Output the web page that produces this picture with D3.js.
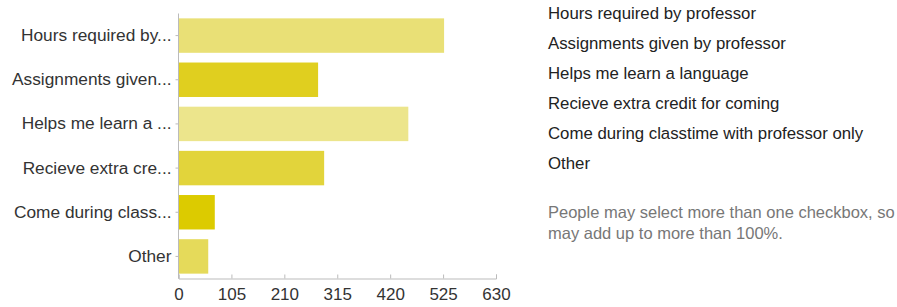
<!DOCTYPE html>
<html><head><meta charset="utf-8">
<script src="https://cdn.jsdelivr.net/npm/d3@7"></script>
<style>body{margin:0;background:#fff;} text{font-family:"Liberation Sans",Arial,sans-serif;}</style>
</head><body><svg id="c" width="897" height="307"></svg>
<script>
const categories = ["Hours required by...","Assignments given...","Helps me learn a ...","Recieve extra cre...","Come during class...","Other"];
const values = [527, 277, 456, 289, 72, 59];
const colors = ["#e9e076","#e0cf1f","#ece58c","#e2d43b","#dccb00","#e5da5a"];
const ticks = [0,105,210,315,420,525,630];
const legendLabels = ["Hours required by professor","Assignments given by professor","Helps me learn a language","Recieve extra credit for coming","Come during classtime with professor only","Other"];
const noteLines = ["People may select more than one checkbox, so","may add up to more than 100%."];

const svg = d3.select("#c");
const x = d3.scaleLinear().domain([0,630]).range([178.5,496]);
const y = d3.scaleBand().domain(categories).range([13.5,278.5]).paddingInner(0.22).paddingOuter(0.11);

svg.append("g").selectAll("rect").data(categories).join("rect")
  .attr("x", x(0)).attr("y", d=>y(d)).attr("height", y.bandwidth())
  .attr("width", (d,i)=>x(values[i])-x(0)).attr("fill",(d,i)=>colors[i]);

const gx = svg.append("g").attr("transform","translate(0,278.5)")
  .call(d3.axisBottom(x).tickValues(ticks).tickSize(-4).tickPadding(9).tickSizeOuter(-4));
gx.select(".domain").attr("stroke","#bbb");
gx.selectAll(".tick line").attr("stroke","#bbb");
gx.selectAll("text").attr("fill","#333").style("font-size","17px").attr("dy","0.71em").attr("y",9);

const gy = svg.append("g").attr("transform","translate(178.5,0)")
  .call(d3.axisLeft(y).tickSize(3).tickSizeOuter(0).tickPadding(4));
gy.select(".domain").attr("stroke","#bbb").attr("d","M0,13.5V278.5");
gy.selectAll(".tick line").attr("stroke","#bbb");
gy.selectAll("text").attr("fill","#333").style("font-size","17.3px");

const leg = svg.append("g");
leg.selectAll("text").data(legendLabels).join("text")
  .attr("x",548).attr("y",(d,i)=>13+30*i).attr("dy","0.35em")
  .attr("fill","#222").style("font-size","16.8px").text(d=>d);
svg.append("g").selectAll("text").data(noteLines).join("text")
  .attr("x",548).attr("y",(d,i)=>212+21*i).attr("dy","0.35em")
  .attr("fill","#777").style("font-size","16.5px").text(d=>d);
</script></body></html>
